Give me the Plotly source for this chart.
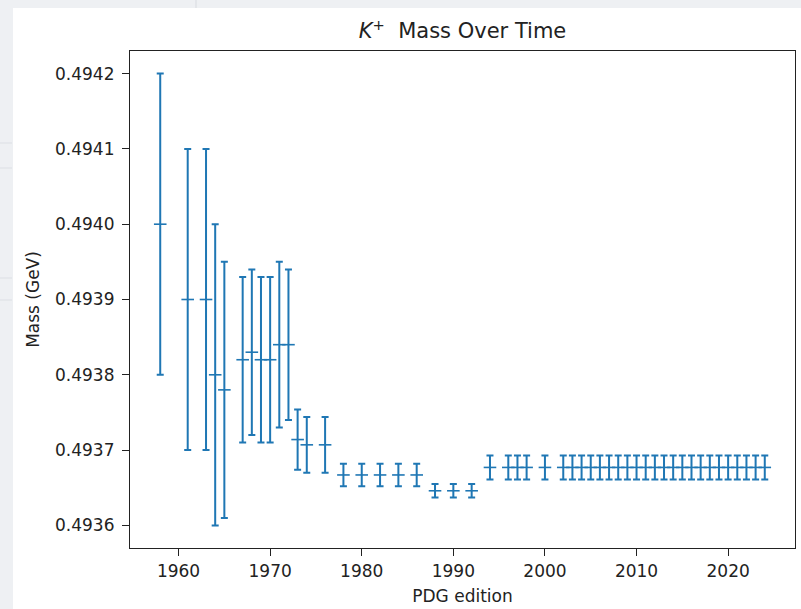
import plotly.graph_objects as go

# PDG editions and K+ mass values (GeV) with uncertainties
years = [1958, 1961, 1963, 1964, 1965, 1967, 1968, 1969, 1970, 1971, 1972,
         1973, 1974, 1976, 1978, 1980, 1982, 1984, 1986, 1988, 1990, 1992,
         1994, 1996, 1997, 1998, 2000,
         2002, 2003, 2004, 2005, 2006, 2007, 2008, 2009, 2010, 2011, 2012,
         2013, 2014, 2015, 2016, 2017, 2018, 2019, 2020, 2021, 2022, 2023, 2024]
mass = [0.4940, 0.4939, 0.4939, 0.4938, 0.49378, 0.49382, 0.49383, 0.49382, 0.49382,
        0.49384, 0.49384, 0.493714, 0.493707, 0.493707,
        0.493667, 0.493667, 0.493667, 0.493667, 0.493667,
        0.493646, 0.493646, 0.493646] + [0.493677] * 28
err = [0.0002, 0.0002, 0.0002, 0.0002, 0.00017, 0.00011, 0.00011, 0.00011, 0.00011,
       0.00011, 0.00010, 0.00004, 0.000037, 0.000037,
       0.000015, 0.000015, 0.000015, 0.000015, 0.000015,
       0.000009, 0.000009, 0.000009] + [0.000016] * 28

x_ticks = [1960, 1970, 1980, 1990, 2000, 2010, 2020]
y_ticks = [0.4936, 0.4937, 0.4938, 0.4939, 0.4940, 0.4941, 0.4942]

W, H = 801, 609
L, R, T, B = 130, 795, 51, 548
BLUE = "#1f77b4"
FONT = "DejaVu Sans"

fig = go.Figure()
fig.add_trace(go.Scatter(
    x=years, y=mass, mode="markers",
    marker=dict(symbol="line-ew", size=9, color=BLUE,
                line=dict(color=BLUE, width=1.6)),
    error_y=dict(type="data", array=err, symmetric=True,
                 color=BLUE, thickness=2, width=3.5),
    showlegend=False, hoverinfo="x+y"))

def px(x):
    return (x - L) / (R - L)

def py(y):
    return (B - y) / (B - T)

shapes = [
    # white canvas of the notebook output cell
    dict(type="rect", xref="paper", yref="paper", x0=px(13), x1=px(W + 5),
         y0=py(H + 5), y1=py(8), fillcolor="white", line=dict(width=0), layer="below"),
    # vertical divider at the top
    dict(type="line", xref="paper", yref="paper", x0=px(196), x1=px(196),
         y0=py(8), y1=py(0), line=dict(color="#d8dbe0", width=1), layer="below"),
]
for yy in [143, 168, 278, 300]:
    shapes.append(dict(type="line", xref="paper", yref="paper", x0=px(0), x1=px(12),
                       y0=py(yy), y1=py(yy), line=dict(color="#dcdfe4", width=1),
                       layer="below"))

fig.update_layout(
    width=W, height=H,
    margin=dict(l=L, r=W - R, t=T, b=H - B, autoexpand=False),
    paper_bgcolor="#eef0f3", plot_bgcolor="white",
    font=dict(family=FONT, size=17, color="#222222"),
    shapes=shapes,
    title=dict(text="<i>K</i><sup>+</sup>  Mass Over Time", x=(L + R) / 2 / W,
               xanchor="center", y=1 - 31 / H, yanchor="middle",
               font=dict(family=FONT, size=21, color="#222222")),
    xaxis=dict(range=[1954.7, 2027.3], tickmode="array", tickvals=x_ticks,
               automargin=False,
               showgrid=False, zeroline=False, showline=True, mirror=True,
               linecolor="#222222", linewidth=1.2, ticks="outside", ticklen=7,
               tickwidth=1, tickcolor="#222222",
               title=dict(text="PDG edition", standoff=10,
                          font=dict(family=FONT, size=17))),
    yaxis=dict(range=[0.49357, 0.49423], tickmode="array", tickvals=y_ticks,
               tickformat=".4f", automargin=False, ticklabelstandoff=4,
               showgrid=False, zeroline=False, showline=True, mirror=True,
               linecolor="#222222", linewidth=1.2, ticks="outside", ticklen=7,
               tickwidth=1, tickcolor="#222222",
               title=dict(text="Mass (GeV)", standoff=11,
                          font=dict(family=FONT, size=17))),
)

# remove the browser's default 8px page margin so the figure sits at the window origin
fig.write_html("out.html", config={"displayModeBar": False},
               post_script="document.body.style.margin='0';")
